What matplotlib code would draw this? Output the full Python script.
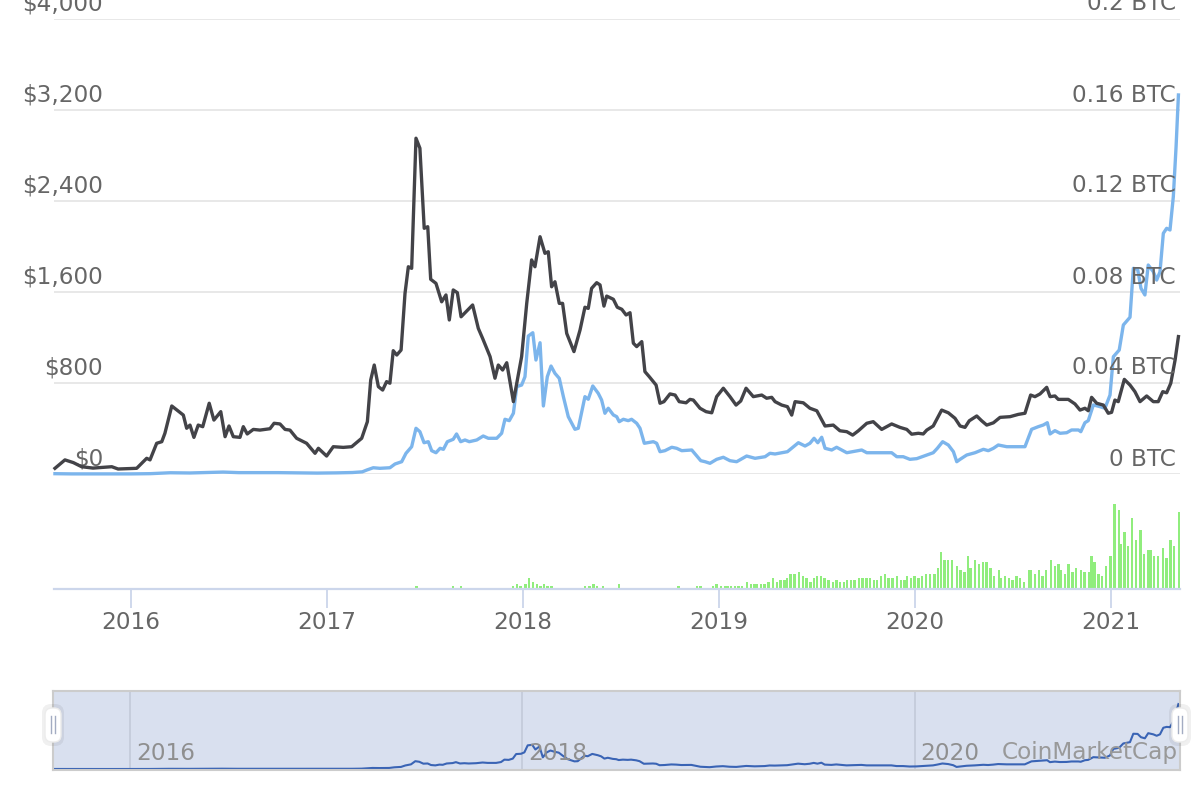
import matplotlib
matplotlib.use("Agg")
import matplotlib.pyplot as plt
from matplotlib.patches import FancyBboxPatch

# time is in decimal years
btc_t = [2015.612, 2015.663, 2015.706, 2015.748, 2015.806, 2015.902, 2015.934, 2016.029, 2016.080, 2016.097,
         2016.131, 2016.157, 2016.173, 2016.208, 2016.267, 2016.284, 2016.301, 2016.321, 2016.343, 2016.366,
         2016.399, 2016.423, 2016.458, 2016.480, 2016.500, 2016.522, 2016.556, 2016.573, 2016.593, 2016.624,
         2016.658, 2016.709, 2016.730, 2016.760, 2016.786, 2016.811, 2016.845, 2016.896, 2016.939, 2016.956,
         2016.998, 2017.032, 2017.083, 2017.126, 2017.177, 2017.206, 2017.223, 2017.241, 2017.262, 2017.284,
         2017.304, 2017.321, 2017.338, 2017.356, 2017.378, 2017.398, 2017.415, 2017.432, 2017.454, 2017.474,
         2017.496, 2017.514, 2017.529, 2017.556, 2017.585, 2017.607, 2017.624, 2017.644, 2017.665, 2017.684,
         2017.743, 2017.772, 2017.794, 2017.832, 2017.857, 2017.874, 2017.896, 2017.917, 2017.951, 2017.993,
         2018.019, 2018.044, 2018.061, 2018.087, 2018.112, 2018.129, 2018.146, 2018.163, 2018.185, 2018.202,
         2018.223, 2018.260, 2018.291, 2018.316, 2018.333, 2018.350, 2018.376, 2018.393, 2018.413, 2018.427,
         2018.461, 2018.481, 2018.504, 2018.526, 2018.546, 2018.563, 2018.580, 2018.606, 2018.622, 2018.644,
         2018.679, 2018.699, 2018.719, 2018.750, 2018.776, 2018.797, 2018.832, 2018.852, 2018.869, 2018.903,
         2018.934, 2018.963, 2018.988, 2019.022, 2019.056, 2019.087, 2019.111, 2019.138, 2019.175, 2019.218,
         2019.243, 2019.269, 2019.286, 2019.320, 2019.349, 2019.371, 2019.388, 2019.430, 2019.464, 2019.499,
         2019.541, 2019.583, 2019.617, 2019.652, 2019.682, 2019.711, 2019.754, 2019.787, 2019.830, 2019.881,
         2019.923, 2019.958, 2019.983, 2020.017, 2020.042, 2020.060, 2020.093, 2020.136, 2020.170, 2020.204,
         2020.230, 2020.255, 2020.277, 2020.315, 2020.340, 2020.366, 2020.400, 2020.434, 2020.485, 2020.527,
         2020.561, 2020.590, 2020.612, 2020.638, 2020.672, 2020.689, 2020.714, 2020.731, 2020.782, 2020.816,
         2020.842, 2020.867, 2020.884, 2020.901, 2020.927, 2020.961, 2020.986, 2021.003, 2021.020, 2021.037,
         2021.068, 2021.097, 2021.122, 2021.148, 2021.182, 2021.216, 2021.241, 2021.264, 2021.284, 2021.305,
         2021.327, 2021.344]
btc_price = [0.0025, 0.0062, 0.0050, 0.0032, 0.0026, 0.0032, 0.0022, 0.0025, 0.0069, 0.0062,
             0.0135, 0.0142, 0.0179, 0.0299, 0.0259, 0.0201, 0.0215, 0.0161, 0.0215, 0.0208,
             0.0311, 0.0237, 0.0274, 0.0164, 0.0211, 0.0164, 0.0161, 0.0208, 0.0176, 0.0196,
             0.0193, 0.0199, 0.0223, 0.0220, 0.0196, 0.0193, 0.0157, 0.0135, 0.0091, 0.0113,
             0.0079, 0.0120, 0.0117, 0.0120, 0.0157, 0.0230, 0.0413, 0.0479, 0.0384, 0.0369,
             0.0406, 0.0399, 0.0542, 0.0523, 0.0545, 0.0794, 0.0911, 0.0904, 0.1476, 0.1432,
             0.1080, 0.1087, 0.0856, 0.0838, 0.0757, 0.0787, 0.0677, 0.0809, 0.0797, 0.0691,
             0.0743, 0.0640, 0.0596, 0.0516, 0.0421, 0.0479, 0.0457, 0.0489, 0.0318, 0.0516,
             0.0750, 0.0941, 0.0911, 0.1043, 0.0970, 0.0977, 0.0823, 0.0845, 0.0750, 0.0750,
             0.0618, 0.0538, 0.0633, 0.0733, 0.0728, 0.0816, 0.0841, 0.0831, 0.0738, 0.0782,
             0.0768, 0.0733, 0.0724, 0.0699, 0.0709, 0.0575, 0.0560, 0.0582, 0.0450, 0.0428,
             0.0391, 0.0311, 0.0318, 0.0352, 0.0347, 0.0318, 0.0313, 0.0328, 0.0325, 0.0289,
             0.0274, 0.0269, 0.0340, 0.0377, 0.0340, 0.0303, 0.0321, 0.0377, 0.0340, 0.0347,
             0.0333, 0.0337, 0.0318, 0.0303, 0.0296, 0.0259, 0.0318, 0.0313, 0.0289, 0.0278,
             0.0211, 0.0215, 0.0190, 0.0186, 0.0171, 0.0190, 0.0223, 0.0230, 0.0196, 0.0220,
             0.0205, 0.0196, 0.0175, 0.0179, 0.0176, 0.0193, 0.0211, 0.0281, 0.0269, 0.0245,
             0.0211, 0.0205, 0.0234, 0.0255, 0.0234, 0.0215, 0.0225, 0.0249, 0.0252, 0.0262,
             0.0267, 0.0347, 0.0340, 0.0352, 0.0381, 0.0340, 0.0343, 0.0328, 0.0328, 0.0308,
             0.0281, 0.0289, 0.0278, 0.0337, 0.0311, 0.0303, 0.0267, 0.0271, 0.0325, 0.0318,
             0.0416, 0.0391, 0.0362, 0.0318, 0.0343, 0.0318, 0.0318, 0.0362, 0.0357, 0.0399,
             0.0501, 0.0604]

usd_t = [2015.612, 2015.700, 2015.800, 2015.900, 2016.000, 2016.100, 2016.200, 2016.300, 2016.400, 2016.470,
         2016.550, 2016.650, 2016.750, 2016.850, 2016.950, 2017.050, 2017.130, 2017.180,
         2017.203, 2017.236, 2017.270, 2017.321, 2017.347, 2017.381, 2017.403, 2017.432, 2017.454, 2017.474,
         2017.495, 2017.517, 2017.534, 2017.556, 2017.577, 2017.594, 2017.614, 2017.644, 2017.661, 2017.682,
         2017.704, 2017.726, 2017.764, 2017.797, 2017.823, 2017.866, 2017.891, 2017.908, 2017.930, 2017.951,
         2017.968, 2017.993, 2018.010, 2018.027, 2018.050, 2018.066, 2018.087, 2018.104, 2018.124, 2018.143,
         2018.163, 2018.185, 2018.206, 2018.231, 2018.265, 2018.282, 2018.316, 2018.333, 2018.356, 2018.384,
         2018.401, 2018.418, 2018.435, 2018.461, 2018.478, 2018.491, 2018.512, 2018.537, 2018.554, 2018.580,
         2018.597, 2018.619, 2018.665, 2018.682, 2018.699, 2018.724, 2018.759, 2018.784, 2018.810, 2018.861,
         2018.878, 2018.907, 2018.929, 2018.954, 2018.988, 2019.022, 2019.056, 2019.090, 2019.141, 2019.184,
         2019.235, 2019.260, 2019.286, 2019.349, 2019.405, 2019.439, 2019.464, 2019.485, 2019.504, 2019.524,
         2019.541, 2019.575, 2019.600, 2019.652, 2019.728, 2019.754, 2019.821, 2019.881, 2019.907, 2019.940,
         2019.974, 2020.009, 2020.060, 2020.093, 2020.114, 2020.141, 2020.170, 2020.196, 2020.213, 2020.230,
         2020.264, 2020.306, 2020.349, 2020.374, 2020.400, 2020.425, 2020.468, 2020.527, 2020.561, 2020.595,
         2020.629, 2020.655, 2020.675, 2020.689, 2020.714, 2020.740, 2020.774, 2020.799, 2020.834, 2020.846,
         2020.867, 2020.884, 2020.910, 2020.944, 2020.969, 2020.995, 2021.012, 2021.042, 2021.063, 2021.097,
         2021.114, 2021.136, 2021.153, 2021.173, 2021.190, 2021.216, 2021.233, 2021.250, 2021.267, 2021.284,
         2021.301, 2021.318, 2021.332, 2021.344]
usd_price = [2.8, 0.9, 1.0, 0.9, 0.95, 3, 11, 9, 14, 17,
             12, 12, 12, 10, 8, 10, 13, 19,
             35, 55, 50, 55, 88, 108, 182, 240, 402, 372,
             275, 284, 205, 187, 226, 217, 284, 305, 352, 284,
             299, 284, 299, 334, 314, 314, 358, 481, 469, 534,
             768, 782, 855, 1213, 1242, 1002, 1154, 598, 855, 949,
             885, 841, 680, 504, 393, 402, 680, 657, 774, 709,
             651, 534, 578, 519, 504, 460, 481, 469, 481, 446,
             402, 270, 284, 270, 196, 205, 235, 226, 205, 211,
             176, 117, 108, 94, 129, 147, 117, 108, 158, 138,
             152, 182, 176, 196, 275, 246, 270, 314, 275, 323,
             226, 211, 235, 187, 211, 187, 187, 187, 152, 152,
             129, 135, 167, 187, 226, 284, 255, 196, 108, 129,
             167, 187, 217, 205, 226, 255, 240, 240, 240, 393,
             416, 431, 451, 352, 381, 358, 363, 387, 387, 372,
             451, 469, 607, 592, 578, 694, 1031, 1090, 1310, 1378,
             1808, 1800, 1632, 1574, 1837, 1778, 1705, 1778, 2116, 2160,
             2145, 2438, 2877, 3332]

# weekly volume, billions USD
vol_t = [2017.457, 2017.642, 2017.685, 2017.949, 2017.969, 2017.988, 2018.012, 2018.031, 2018.051, 2018.070,
         2018.090, 2018.106, 2018.125, 2018.145, 2018.317, 2018.340, 2018.360, 2018.379,
         2018.408, 2018.490, 2018.793, 2018.887, 2018.906, 2018.969, 2018.988, 2019.010, 2019.029, 2019.043,
         2019.061, 2019.080, 2019.100, 2019.119, 2019.143, 2019.162, 2019.182, 2019.193, 2019.213, 2019.232,
         2019.252, 2019.275, 2019.295, 2019.314, 2019.334, 2019.346, 2019.365, 2019.385, 2019.408, 2019.428,
         2019.447, 2019.467, 2019.486, 2019.500, 2019.520, 2019.539, 2019.559, 2019.580, 2019.600, 2019.619,
         2019.639, 2019.652, 2019.672, 2019.691, 2019.713, 2019.732, 2019.752, 2019.771, 2019.791, 2019.807,
         2019.826, 2019.846, 2019.865, 2019.885, 2019.908, 2019.928, 2019.947, 2019.959, 2019.979, 2019.998,
         2020.018, 2020.037, 2020.057, 2020.076, 2020.100, 2020.119, 2020.131, 2020.150, 2020.170, 2020.189,
         2020.213, 2020.232, 2020.252, 2020.271, 2020.283, 2020.307, 2020.326, 2020.346, 2020.365, 2020.385,
         2020.404, 2020.428, 2020.439, 2020.459, 2020.479, 2020.498, 2020.518, 2020.537, 2020.557, 2020.580,
         2020.592, 2020.611, 2020.631, 2020.650, 2020.670, 2020.693, 2020.713, 2020.732, 2020.744, 2020.764,
         2020.783, 2020.803, 2020.822, 2020.846, 2020.865, 2020.889, 2020.900, 2020.916, 2020.936, 2020.955,
         2020.975, 2020.998, 2021.018, 2021.041, 2021.049, 2021.068, 2021.088, 2021.107, 2021.127, 2021.150,
         2021.170, 2021.189, 2021.201, 2021.221, 2021.240, 2021.264, 2021.283, 2021.303, 2021.322, 2021.346]
vol_bn = [1.6, 1.6, 1.6, 1.6, 2.8, 1.6, 2.8, 6.4, 4.0, 2.8,
          1.6, 2.8, 1.6, 1.6, 1.6, 1.6, 2.8, 1.6,
          1.6, 2.8, 1.6, 1.6, 1.6, 1.6, 2.8, 1.6, 1.6, 1.6,
          1.6, 1.6, 1.6, 1.6, 4.0, 2.8, 2.8, 2.8, 2.8, 2.8,
          4.0, 6.4, 4.0, 5.2, 5.2, 6.4, 8.8, 8.8, 10.0, 7.6,
          6.4, 4.0, 6.4, 7.6, 7.6, 6.4, 5.2, 4.0, 5.2, 4.0,
          4.0, 5.2, 5.2, 5.2, 6.4, 6.4, 6.4, 6.4, 5.2, 5.2,
          7.6, 8.8, 6.4, 6.4, 7.6, 5.2, 5.2, 7.6, 6.4, 7.6,
          6.4, 7.6, 8.8, 8.8, 8.8, 12.4, 22.0, 17.2, 17.2, 17.2,
          13.6, 11.2, 10.0, 19.6, 12.4, 17.2, 14.8, 16.0, 16.0, 12.4,
          7.6, 11.2, 6.4, 7.6, 6.4, 5.2, 7.6, 6.4, 4.0, 11.2,
          11.2, 8.8, 11.2, 7.6, 11.2, 17.2, 13.6, 14.8, 11.2, 8.8,
          14.8, 10.0, 12.4, 11.2, 10.0, 10.0, 19.6, 16.0, 8.8, 7.6,
          13.6, 19.6, 50.8, 47.2, 26.8, 34.0, 25.6, 42.4, 29.2, 35.2,
          20.8, 23.2, 23.2, 19.6, 19.6, 24.4, 18.4, 29.2, 25.6, 46.0]

usd_ticks = [0, 800, 1600, 2400, 3200, 4000]
btc_ticks = [0, 0.04, 0.08, 0.12, 0.16, 0.2]
years = [2016, 2017, 2018, 2019, 2020, 2021]
nav_years = [2016, 2018, 2020]

W, H = 1200, 800
def box(left, top, right, bottom):
    # pixel box -> figure fraction
    return [left / W, 1 - bottom / H, (right - left) / W, (bottom - top) / H]

t0 = 2016 + (54 - 131) / 196
t1 = 2016 + (1180 - 131) / 196
label_gray = '#666666'
fs = 16.7

fig = plt.figure(figsize=(12, 8), dpi=100)

# main price panel
ax = fig.add_axes(box(54, 19, 1180, 474))
ax.set_xlim(t0, t1)
ax.set_ylim(0, 4000)
ax.axis('off')
for v in usd_ticks:
    ax.axhline(v, color='#e6e6e6', lw=1.3, zorder=0)
    ax.annotate(f'${v:,}', xy=((103 - 54) / 1126, v), xycoords=('axes fraction', 'data'),
                xytext=(0, 10.8), textcoords='offset points', ha='right', va='center',
                fontsize=fs, color=label_gray, annotation_clip=False)
ax.plot(usd_t, usd_price, color='#7cb5ec', lw=2.4, clip_on=False, solid_joinstyle='round')

ax2 = ax.twinx()
ax2.set_ylim(0, 0.2)
ax2.axis('off')
for v in btc_ticks:
    ax2.annotate(f'{v:g} BTC', xy=((1176 - 54) / 1126, v), xycoords=('axes fraction', 'data'),
                 xytext=(0, 10.8), textcoords='offset points', ha='right', va='center',
                 fontsize=fs, color=label_gray, annotation_clip=False)
ax2.plot(btc_t, btc_price, color='#434348', lw=2.4, clip_on=False, solid_joinstyle='round')

# volume panel
av = fig.add_axes(box(54, 489, 1180, 589))
av.set_xlim(t0, t1)
av.set_ylim(0, 60)
av.bar(vol_t, vol_bn, width=0.012, color='#90ed7d', align='center', zorder=1)
for s in ['top', 'left', 'right']:
    av.spines[s].set_visible(False)
av.spines['bottom'].set_color('#ccd6eb')
av.spines['bottom'].set_linewidth(1.6)
av.spines['bottom'].set_zorder(2)
av.set_yticks([])
av.set_xticks(years)
av.set_xticklabels([str(y) for y in years])
av.tick_params(axis='x', length=13.7, width=1.3, color='#ccd6eb', labelsize=fs,
               labelcolor=label_gray, pad=2)
av.patch.set_alpha(0)

# navigator
an = fig.add_axes(box(53, 691, 1180, 770))
an.set_facecolor('#d9e0ef')
an.set_xlim(t0, t1)
an.set_ylim(-50, 4000)
an.set_xticks([])
an.set_yticks([])
for s in an.spines.values():
    s.set_color('#cccccc')
    s.set_linewidth(1.5)
for y in nav_years:
    an.axvline(y, color='#c4cbda', lw=1.3, zorder=0)
    an.text(y + 0.03, 0.215, str(y), transform=an.get_xaxis_transform(),
            ha='left', va='center', fontsize=fs, color='#8f8f8f')
an.plot(usd_t, usd_price, color='#3a64b5', lw=1.5)

fig.text(1178 / W, 1 - 753 / H, 'CoinMarketCap', ha='right', va='center',
         fontsize=fs, color='#999999')

# navigator handles drawn in pixel space
ov = fig.add_axes([0, 0, 1, 1])
ov.set_xlim(0, W)
ov.set_ylim(H, 0)
ov.axis('off')
ov.patch.set_alpha(0)
for cx in (53, 1180):
    ov.add_patch(FancyBboxPatch((cx - 11, 704), 22, 42, boxstyle='round,pad=0,rounding_size=9',
                                fc='black', ec='none', alpha=0.06))
    ov.add_patch(FancyBboxPatch((cx - 8, 708), 16, 34, boxstyle='round,pad=0,rounding_size=7',
                                fc='white', ec='#ececec', lw=1))
    ov.plot([cx - 2, cx - 2], [716, 733], color='#a3acc2', lw=1)
    ov.plot([cx + 2, cx + 2], [716, 733], color='#a3acc2', lw=1)

fig.savefig('out.png', dpi=100)
